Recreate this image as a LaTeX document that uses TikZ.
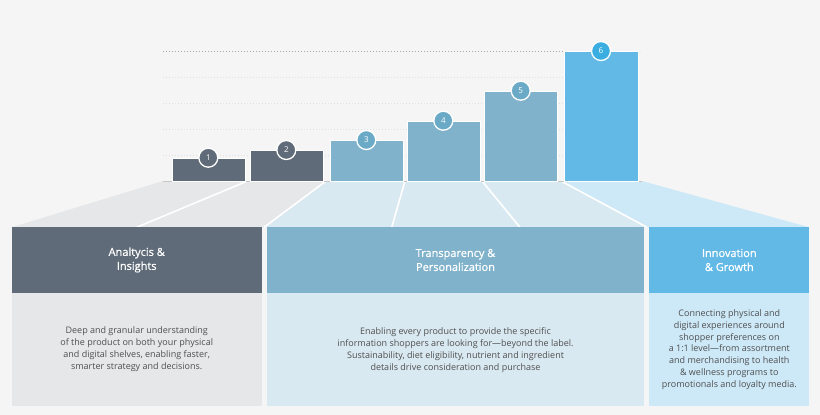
\documentclass[tikz,border=0pt]{standalone}
\usepackage{fontspec}
\setmainfont{Open Sans}
\newfontfamily\headfont{Open Sans}[FakeBold=0.8]
\definecolor{bgcol}{HTML}{F5F5F5}
\definecolor{slate}{HTML}{5F6B78}
\definecolor{steel}{HTML}{80B3CB}
\definecolor{sky}{HTML}{62B9E6}
\definecolor{steeldot}{HTML}{6AAAC6}
\definecolor{skydot}{HTML}{3AAEE0}
\definecolor{slatepale}{HTML}{E6E7E9}
\definecolor{steelpale}{HTML}{D9E9F1}
\definecolor{skypale}{HTML}{CDE9F8}
\definecolor{bodytext}{HTML}{4F4F4F}
\tikzset{
  bar/.style={draw=white, line width=0.4pt},
  badge/.style={circle, draw=white, line width=1.3pt, minimum size=19pt, inner sep=0pt, text=white, font=\fontsize{8}{8}\selectfont},
  headbox/.style={minimum height=65.5pt, inner sep=0pt, text=white, align=center, font=\headfont\fontsize{11}{14}\selectfont},
  bodybox/.style={minimum height=113pt, inner sep=0pt, text=bodytext, align=center, font=\fontsize{9}{12}\selectfont},
  divider/.style={draw=white, line width=1.6pt},
}
\begin{document}
\begin{tikzpicture}[x=1pt,y=1pt,yscale=-1,xscale=1]
%Background
\fill[bgcol] (0,0) rectangle (820,415);

%Grid lines
\draw[gray!70, dash pattern={on 0.8pt off 2.2pt}] (163,51) -- (640,51);
\foreach \gy in {77,103,129,155}
  \draw[gray!25, dash pattern={on 0.8pt off 2.2pt}] (163,\gy) -- (640,\gy);

%Funnel
\fill[slatepale] (163,181) -- (326,181) -- (264,227.3) -- (11.7,227.3) -- cycle;
\fill[steelpale] (326,181) -- (561,181) -- (647,227.3) -- (264,227.3) -- cycle;
\fill[skypale] (561,181) -- (642,181) -- (809.3,227.3) -- (647,227.3) -- cycle;
\draw[divider] (326,181) -- (264,227.3);
\draw[divider] (561,181) -- (647,227.3);
\draw[divider] (247.5,181) -- (136.7,227.3);
\draw[divider] (405,181) -- (391.7,227.3);
\draw[divider] (482,181) -- (520,227.3);
\draw[gray!45, line width=0.5pt] (163,181) -- (642,181);

%Bars
\fill[slate, bar] (171.7,181) rectangle (244.7,157.7);
\fill[slate, bar] (250,181) rectangle (323,150);
\fill[steel, bar] (330,181) rectangle (402.7,140);
\fill[steel, bar] (407,181) rectangle (480,120.7);
\fill[steel, bar] (484.3,181) rectangle (557,90.7);
\fill[sky, bar] (564.3,181) rectangle (637.7,51);

% Badges
\node[badge, fill=slate] (b1) at (208.3,157.7) {1};
\node[badge, fill=slate] (b2) at (286.3,150) {2};
\node[badge, fill=steeldot] (b3) at (366.3,140) {3};
\node[badge, fill=steeldot] (b4) at (443.3,120.7) {4};
\node[badge, fill=steeldot] (b5) at (520.7,90.7) {5};
\node[badge, fill=skydot] (b6) at (601,51) {6};

% Header boxes
\node[headbox, fill=slate, minimum width=250pt] (h1) at (136.7,260) {Analtycis \&\\Insights};
\node[headbox, fill=steel, minimum width=377.6pt] (h2) at (455.5,260) {Transparency \&\\Personalization};
\node[headbox, fill=sky, minimum width=160pt] (h3) at (729.3,260) {Innovation\\\& Growth};

% Body boxes
\node[bodybox, fill=slatepale, minimum width=250pt, anchor=north] (t1) at (h1.south) {Deep and granular understanding\\of the product on both your physical\\and digital shelves, enabling faster,\\smarter strategy and decisions.};
\node[bodybox, fill=steelpale, minimum width=377.6pt, anchor=north] (t2) at (h2.south) {Enabling every product to provide the specific\\information shoppers are looking for---beyond the label.\\Sustainability, diet eligibility, nutrient and ingredient\\details drive consideration and purchase};
\node[bodybox, fill=skypale, minimum width=160pt, anchor=north, font=\fontsize{9}{11.8}\selectfont] (t3) at (h3.south) {Connecting physical and\\digital experiences around\\shopper preferences on\\a 1:1 level---from assortment\\and merchandising to health\\\& wellness programs to\\promotionals and loyalty media.};

\end{tikzpicture}
\end{document}
